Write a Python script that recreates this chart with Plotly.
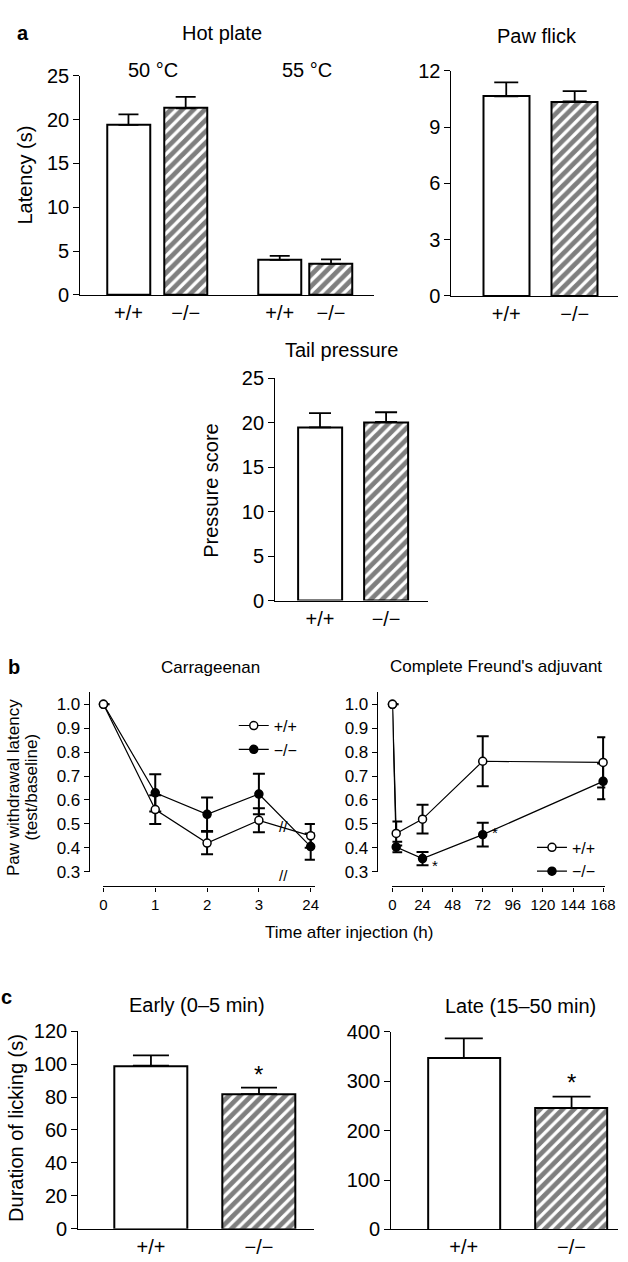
import plotly.graph_objects as go

W, H = 628, 1262
FONT = "Liberation Sans, Arial, sans-serif"


def fx(p):
    return p / W


def fy(p):
    return 1 - p / H


# ---------------- data ----------------
GENOTYPES = ["+/+", "−/−"]

# panel a
HOT_LATENCY = [19.4, 21.3, 4.0, 3.55]
HOT_SEM = [1.2, 1.3, 0.45, 0.5]
HOT_LABELS = ["+/+", "−/−", "+/+", "−/−"]
HOT_TEMPS = ["50 °C", "55 °C"]
PAW_LATENCY = [10.65, 10.37]
PAW_SEM = [0.74, 0.55]
TAIL_SCORE = [19.5, 20.1]
TAIL_SEM = [1.6, 1.1]

# panel b
CAR_TIMES = ["0", "1", "2", "3", "24"]
CAR_WT = [1.0, 0.56, 0.42, 0.515, 0.45]
CAR_WT_SEM = [None, 0.06, 0.047, 0.05, 0.05]
CAR_KO = [1.0, 0.63, 0.54, 0.625, 0.405]
CAR_KO_SEM = [None, 0.078, 0.07, 0.085, 0.055]
CFA_TIMES = [0, 3, 24, 72, 168]
CFA_WT = [1.0, 0.46, 0.52, 0.762, 0.757]
CFA_WT_SEM = [None, 0.05, 0.06, 0.105, 0.105]
CFA_KO = [1.0, 0.403, 0.355, 0.455, 0.678]
CFA_KO_SEM = [None, 0.022, 0.028, 0.05, 0.075]
CFA_TICKS = [0, 24, 48, 72, 96, 120, 144, 168]
RATIO_TICKS = [0.3, 0.4, 0.5, 0.6, 0.7, 0.8, 0.9, 1.0]

# panel c
EARLY = [99.0, 81.8]
EARLY_SEM = [6.3, 3.9]
LATE = [347.0, 245.5]
LATE_SEM = [40.0, 23.5]

# ---------------- layout constants ----------------
HOT_POS = [0, 1.064, 2.813, 3.767]
PAIR_POS = [0, 1]
PAT = ["", "/"]

fig = go.Figure()


def bar_trace(xpos, vals, sems, shapes, width, capw, ax):
    return go.Bar(
        x=xpos, y=vals, width=width,
        marker=dict(color="white", line=dict(color="black", width=2),
                    pattern=dict(shape=shapes, fgcolor="black", bgcolor="white",
                                 size=8, solidity=0.6)),
        error_y=dict(type="data", symmetric=False, array=sems,
                     arrayminus=[0] * len(sems), width=capw, thickness=1.8,
                     color="black"),
        xaxis="x" + ax, yaxis="y" + ax, showlegend=False,
    )


fig.add_trace(bar_trace(HOT_POS, HOT_LATENCY, HOT_SEM, PAT * 2, 0.8, 10, "1"))
fig.add_trace(bar_trace(PAIR_POS, PAW_LATENCY, PAW_SEM, PAT, 0.67, 12, "2"))
fig.add_trace(bar_trace(PAIR_POS, TAIL_SCORE, TAIL_SEM, PAT, 0.666, 11, "3"))
fig.add_trace(bar_trace(PAIR_POS, EARLY, EARLY_SEM, PAT, 0.67, 18, "6"))
fig.add_trace(bar_trace(PAIR_POS, LATE, LATE_SEM, PAT, 0.67, 19, "7"))


def line_trace(x, y, sem, filled, name, ax, legend, rank):
    return go.Scatter(
        x=x, y=y, mode="lines+markers", name=name,
        line=dict(color="black", width=1.2),
        marker=dict(symbol="circle", size=8,
                    color="black" if filled else "white",
                    line=dict(color="black", width=1.5)),
        error_y=dict(type="data", array=sem, width=6, thickness=2, color="black"),
        xaxis="x" + ax, yaxis="y" + ax, cliponaxis=False,
        legend=legend, legendrank=rank,
    )


car_x = list(range(len(CAR_TIMES)))
fig.add_trace(line_trace(car_x, CAR_KO, CAR_KO_SEM, True, GENOTYPES[1], "4", "legend", 2))
fig.add_trace(line_trace(car_x, CAR_WT, CAR_WT_SEM, False, GENOTYPES[0], "4", "legend", 1))
fig.add_trace(line_trace(CFA_TIMES, CFA_KO, CFA_KO_SEM, True, GENOTYPES[1], "5", "legend2", 2))
fig.add_trace(line_trace(CFA_TIMES, CFA_WT, CFA_WT_SEM, False, GENOTYPES[0], "5", "legend2", 1))

AX = dict(showgrid=False, zeroline=False, showline=True, linecolor="black",
          linewidth=1.2, color="black")
BIGF = dict(family=FONT, size=20, color="black")
MIDF = dict(family=FONT, size=17, color="black")
LEGF = dict(family=FONT, size=16, color="black")


def bar_x(d0, d1, c0, unit, pos, labels):
    return dict(AX, domain=[fx(d0), fx(d1)],
                range=[(d0 - c0) / unit, (d1 - c0) / unit],
                tickvals=pos, ticktext=labels, ticks="", tickfont=BIGF)


def bar_y(p0, p1, top, dtick):
    return dict(AX, domain=[fy(p0), fy(p1)], range=[0, top], dtick=dtick,
                ticks="outside", ticklen=6, tickwidth=1.2, tickfont=BIGF)


layout = dict(
    width=W, height=H, margin=dict(l=0, r=0, t=0, b=0),
    paper_bgcolor="white", plot_bgcolor="rgba(0,0,0,0)",
    font=dict(family=FONT, color="black"),
    bargap=0,
    xaxis=bar_x(78, 378, 127.3, 55, HOT_POS, HOT_LABELS),
    yaxis=dict(bar_y(289, 66, 25, 5), anchor="x"),
    xaxis2=dict(bar_x(457.7, 628, 513.7, 70, PAIR_POS, GENOTYPES), anchor="y2"),
    yaxis2=dict(bar_y(290, 61, 12, 3), anchor="x2"),
    xaxis3=dict(bar_x(277.3, 433.3, 323.2, 67.6, PAIR_POS, GENOTYPES), anchor="y3"),
    yaxis3=dict(bar_y(600, 374, 25, 5), anchor="x3"),
    xaxis4=dict(AX, domain=[fx(101.7), fx(318)], range=[0, (318 - 101.7) / 53],
                anchor="free", position=fy(891), tickvals=car_x, ticktext=CAR_TIMES,
                ticks="outside", ticklen=4, tickwidth=1.2,
                tickfont=dict(family=FONT, size=15, color="black")),
    yaxis4=dict(AX, domain=[fy(876), fy(693)], range=[0.3, 1.052], anchor="free",
                position=fx(86.7), tickvals=RATIO_TICKS, tickformat=".1f",
                ticks="outside", ticklen=5, tickwidth=1.2, tickfont=MIDF),
    xaxis5=dict(AX, domain=[fx(397.3), fx(615)], range=[0, (615 - 397.3) / 1.2825],
                anchor="free", position=fy(891), tickvals=CFA_TICKS,
                ticks="outside", ticklen=4, tickwidth=1.2,
                tickfont=dict(family=FONT, size=15, color="black")),
    yaxis5=dict(AX, domain=[fy(876), fy(693)], range=[0.3, 1.052], anchor="free",
                position=fx(381.3), tickvals=RATIO_TICKS, tickformat=".1f",
                ticks="outside", ticklen=5, tickwidth=1.2, tickfont=MIDF),
    xaxis6=dict(bar_x(76, 316.7, 150.3, 110.5, PAIR_POS, GENOTYPES), anchor="y6"),
    yaxis6=dict(bar_y(1239.3, 1038.3, 120, 20), anchor="x6"),
    xaxis7=dict(bar_x(396, 628, 470.3, 110.2, PAIR_POS, GENOTYPES), anchor="y7"),
    yaxis7=dict(bar_y(1240, 1039, 400, 100), anchor="x7"),
    legend=dict(x=fx(235), y=fy(710), xanchor="left", yanchor="top",
                font=LEGF, bgcolor="rgba(0,0,0,0)", tracegroupgap=0,
                itemwidth=30, traceorder="normal"),
    legend2=dict(x=fx(540), y=fy(834), xanchor="left", yanchor="top",
                 font=LEGF, bgcolor="rgba(0,0,0,0)", tracegroupgap=0,
                 itemwidth=30, traceorder="normal"),
)
fig.update_layout(**layout)


def note(text, x, y, font, angle=0, xanchor="center"):
    fig.add_annotation(text=text, x=fx(x), y=fy(y), xref="paper", yref="paper",
                       showarrow=False, font=font, textangle=angle,
                       xanchor=xanchor, yanchor="middle")


BOLD = dict(family=FONT, size=20, color="black", weight="bold")
note("<b>a</b>", 19, 22, BOLD)
note("Hot plate", 223, 22, BIGF)
note(HOT_TEMPS[0], 152, 60, BIGF)
note(HOT_TEMPS[1], 310, 60, BIGF)
note("Latency (s)", 22, 167, BIGF, -90)
note("Paw flick", 545, 25, BIGF)
note("Tail pressure", 345, 345, BIGF)
note("Pressure score", 212, 488, BIGF, -90)
note("<b>b</b>", 10, 668, BOLD)
note("Carrageenan", 211, 668, MIDF)
note("Complete Freund's adjuvant", 503, 667, MIDF)
note("Paw withdrawal latency", 9, 790, MIDF, -90)
note("(test/baseline)", 28, 790, MIDF, -90)
note("Time after injection (h)", 353, 938, MIDF)
note("<b>c</b>", 3, 1003, BOLD)
note("Early (0–5 min)", 197, 1012, BIGF)
note("Late (15–50 min)", 528, 1013, BIGF)
note("Duration of licking (s)", 12, 1137, BIGF, -90)

# break marks and significance stars (data-referenced)
SMALL = dict(family=FONT, size=15, color="black")
fig.add_annotation(text="//", x=3.47, y=0.49, xref="x4", yref="y4",
                   showarrow=False, font=SMALL)
fig.add_annotation(text="//", x=3.47, y=fy(891), xref="x4", yref="paper",
                   showarrow=False, font=SMALL)
fig.add_annotation(text="*", x=CFA_TIMES[2] + 10, y=CFA_KO[2] - 0.03, xref="x5",
                   yref="y5", showarrow=False, font=SMALL)
fig.add_annotation(text="*", x=CFA_TIMES[3] + 10, y=CFA_KO[3] + 0.01, xref="x5",
                   yref="y5", showarrow=False, font=SMALL)
STAR = dict(family=FONT, size=24, color="black")
fig.add_annotation(text="*", x=PAIR_POS[1], y=EARLY[1] + EARLY_SEM[1] + 8,
                   xref="x6", yref="y6", showarrow=False, font=STAR)
fig.add_annotation(text="*", x=PAIR_POS[1], y=LATE[1] + LATE_SEM[1] + 28,
                   xref="x7", yref="y7", showarrow=False, font=STAR)

fig.write_html("out.html", config={"displayModeBar": False},
               post_script="document.body.style.margin='0px';")
